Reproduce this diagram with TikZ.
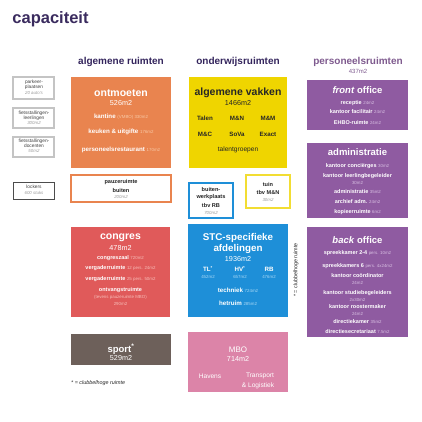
\documentclass[tikz,border=0pt]{standalone}
\usepackage{fontspec}
\setmainfont{Liberation Sans}

\definecolor{titelpaars}{HTML}{3A2B5E}
\definecolor{kopkleur}{HTML}{33245C}
\definecolor{perskop}{HTML}{7E5A8E}
\definecolor{ontmoet}{HTML}{E9844F}
\definecolor{ontmoetlicht}{HTML}{F8C9A6}
\definecolor{vakgeel}{HTML}{EFD500}
\definecolor{congrood}{HTML}{E05A5A}
\definecolor{congroodlicht}{HTML}{F7BDB8}
\definecolor{stcblauw}{HTML}{1E8FD8}
\definecolor{stcblauwlicht}{HTML}{A9D8F5}
\definecolor{perspaars}{HTML}{8F5BA1}
\definecolor{perspaarslicht}{HTML}{D9C0E3}
\definecolor{sportbruin}{HTML}{6D605A}
\definecolor{mboroze}{HTML}{DC84A8}
\definecolor{randgrijs}{HTML}{C4C4C4}
\definecolor{tekstgrijs}{HTML}{9A9A9A}

\newcommand{\maat}[2]{{\color{#1}\fontsize{4.4}{4.8}\selectfont\mdseries #2}}

\tikzset{every picture/.style={line width=0.9pt}}
\tikzset{
  kop/.style={inner sep=0.75pt, font=\fontsize{10}{11}\selectfont\bfseries, text=kopkleur},
  titel/.style={inner sep=0.75pt, font=\fontsize{10.5}{11}\selectfont\bfseries, text=white},
  regel/.style={inner sep=0.75pt, font=\fontsize{6.2}{6.5}\selectfont\bfseries, text=white},
  persregel/.style={regel, font=\fontsize{5.5}{6}\selectfont\bfseries},
  totaal/.style={inner sep=0.75pt, font=\fontsize{7.2}{8}\selectfont, text=white},
  klein/.style={inner sep=0.75pt, font=\fontsize{4.8}{5}\selectfont, text=black!75},
  kleingrijs/.style={inner sep=0.75pt, font=\fontsize{4.4}{4.8}\selectfont\itshape, text=tekstgrijs},
  buitenregel/.style={inner sep=0.75pt, font=\fontsize{5.6}{6}\selectfont\bfseries, text=black!85},
}

\begin{document}
\begin{tikzpicture}[x=1pt,y=1pt,yscale=-1]
\useasboundingbox (0,0) rectangle (422,422);

% Text Node
\draw (12,24) node [anchor=base west][inner sep=0pt] [font=\fontsize{16.5}{17}\selectfont\bfseries, text=titelpaars] (titel) {capaciteit};
% Text Node
\draw (121,62) node [kop] (kopalg) {algemene ruimten};
% Text Node
\draw (238,62) node [kop] (kopond) {onderwijsruimten};
% Text Node
\draw (358,62) node [kop, text=perskop] (koppers) {personeelsruimten};
% Text Node
\draw (358,71) node [totaal, text=perskop, font=\fontsize{6}{6.5}\selectfont] (perstotaal) {437m2};

%Shape: Rectangle (parkeerplaatsen)
\draw [draw=randgrijs, line width=1.2pt] (13,77) rectangle (54,99);
\draw (34,82) node [klein] (park1) {parkeer-};
\draw (34,87) node [klein] (park2) {plaatsen};
\draw (34,92.5) node [kleingrijs] (park3) {20 auto's};
%Shape: Rectangle (fietsen leerlingen)
\draw [draw=randgrijs, line width=1.2pt] (13,108) rectangle (54,128);
\draw (34,113) node [klein] (fietsl1) {fietsstallingen-};
\draw (34,118) node [klein] (fietsl2) {leerlingen};
\draw (34,123) node [kleingrijs] (fietsl3) {300m2};
%Shape: Rectangle (fietsen docenten)
\draw [draw=randgrijs, line width=1.2pt] (13,137) rectangle (54,157);
\draw (34,141) node [klein] (fietsd1) {fietsstallingen-};
\draw (34,146) node [klein] (fietsd2) {docenten};
\draw (34,151) node [kleingrijs] (fietsd3) {50m2};
%Shape: Rectangle (lockers)
\draw [draw=black!70, line width=0.9pt] (13,182) rectangle (54,199);
\draw (34,187) node [klein] (lockers1) {lockers};
\draw (34,192.5) node [kleingrijs] (lockers2) {600 stuks};

%Shape: Rectangle (ontmoeten)
\draw [draw=none, fill=ontmoet] (71,77) rectangle (171,168);
\draw (121,93) node [titel] (ontmoeten) {ontmoeten};
\draw (121,103.5) node [totaal] (ontmoetentot) {526m2};
\draw (121,117) node [regel] (kantine) {kantine \maat{ontmoetlicht}{(VMBO) 330m2}};
\draw (121,132) node [regel] (keuken) {keuken \& uitgifte \maat{ontmoetlicht}{176m2}};
\draw (121,150) node [regel] (restaurant) {personeelsrestaurant \maat{ontmoetlicht}{170m2}};

%Shape: Rectangle (pauzeruimte)
\draw [draw=ontmoet, line width=1.6pt, fill=white] (71,175) rectangle (171,202);
\draw (121,182.5) node [buitenregel] (pauze1) {pauzeruimte};
\draw (121,190) node [buitenregel] (pauze2) {buiten};
\draw (121,197) node [kleingrijs] (pauze3) {200m2};

%Shape: Rectangle (algemene vakken)
\draw [draw=none, fill=vakgeel] (189,77) rectangle (287,168);
\draw (238,93) node [titel, text=black!85] (vakken) {algemene vakken};
\draw (238,103.5) node [totaal, text=black!85] (vakkentot) {1466m2};
\draw (205,118) node [regel, text=black!85] (talen) {Talen};
\draw (237,118) node [regel, text=black!85] (mn) {M\&N};
\draw (268,118) node [regel, text=black!85] (mm) {M\&M};
\draw (205,134) node [regel, text=black!85] (mc) {M\&C};
\draw (237,134) node [regel, text=black!85] (sova) {SoVa};
\draw (268,134) node [regel, text=black!85] (exact) {Exact};
\draw (238,150) node [regel, font=\fontsize{6.6}{7}\selectfont, text=black!85] (talent) {talentgroepen};

%Shape: Rectangle (buitenwerkplaats)
\draw [draw=stcblauw, line width=1.6pt, fill=white] (189,183) rectangle (233,218);
\draw (211,189) node [buitenregel] (werk1) {buiten-};
\draw (211,197) node [buitenregel] (werk2) {werkplaats};
\draw (211,205) node [buitenregel] (werk3) {tbv RB};
\draw (211,212.5) node [kleingrijs] (werk4) {700m2};
%Shape: Rectangle (tuin)
\draw [draw=vakgeel!80, line width=1.6pt, fill=white] (246,175) rectangle (290,208);
\draw (268,184) node [buitenregel] (tuin1) {tuin};
\draw (268,192) node [buitenregel] (tuin2) {tbv M\&N};
\draw (268,200) node [kleingrijs] (tuin3) {30m2};

%Shape: Rectangle (front office)
\draw [draw=none, fill=perspaars] (307,80) rectangle (408,130);
\draw (357.5,90) node [titel, font=\fontsize{9.5}{10}\selectfont\bfseries] (front) {\textit{front} office};
\draw (357.5,103) node [persregel] (receptie) {receptie \maat{perspaarslicht}{24m2}};
\draw (357.5,111.5) node [persregel] (facilitair) {kantoor facilitair \maat{perspaarslicht}{24m2}};
\draw (357.5,123) node [persregel] (ehbo) {EHBO-ruimte \maat{perspaarslicht}{24m2}};

%Shape: Rectangle (administratie)
\draw [draw=none, fill=perspaars] (307,143) rectangle (408,218);
\draw (357.5,152) node [titel, font=\fontsize{9.5}{10}\selectfont\bfseries] (admin) {administratie};
\draw (357.5,166) node [persregel] (concierge) {kantoor conciërges \maat{perspaarslicht}{30m2}};
\draw (357.5,176) node [persregel] (llb1) {kantoor leerlingbegeleider};
\draw (357.5,183) node [regel] (llb2) {\maat{perspaarslicht}{30m2}};
\draw (357.5,192) node [persregel] (adminr) {administratie \maat{perspaarslicht}{35m2}};
\draw (357.5,202) node [persregel] (archief) {archief adm. \maat{perspaarslicht}{24m2}};
\draw (357.5,212) node [persregel] (kopieer) {kopieerruimte \maat{perspaarslicht}{6m2}};

%Shape: Rectangle (back office)
\draw [draw=none, fill=perspaars] (307,227) rectangle (408,337);
\draw (357.5,240) node [titel, font=\fontsize{9.5}{10}\selectfont\bfseries] (back) {\textit{back} office};
\draw (357.5,253) node [persregel] (spreek1) {spreekkamer 2-4 \maat{perspaarslicht}{pers. 10m2}};
\draw (357.5,266) node [persregel] (spreek2) {spreekkamers 6 \maat{perspaarslicht}{pers. 4x24m2}};
\draw (357.5,276) node [persregel] (coord1) {kantoor coördinator};
\draw (357.5,283) node [regel] (coord2) {\maat{perspaarslicht}{24m2}};
\draw (357.5,293) node [persregel] (studie1) {kantoor studiebegeleiders};
\draw (357.5,300) node [regel] (studie2) {\maat{perspaarslicht}{2x30m2}};
\draw (357.5,307) node [persregel] (rooster1) {kantoor roostermaker};
\draw (357.5,314) node [regel] (rooster2) {\maat{perspaarslicht}{24m2}};
\draw (357.5,322) node [persregel] (directie) {directiekamer \maat{perspaarslicht}{35m2}};
\draw (357.5,332) node [persregel] (secretariaat) {directiesecretariaat \maat{perspaarslicht}{7.5m2}};

%Shape: Rectangle (congres)
\draw [draw=none, fill=congrood] (71,227) rectangle (170,317);
\draw (120.5,238) node [titel] (congres) {congres};
\draw (120.5,248.5) node [totaal] (congrestot) {478m2};
\draw (120.5,258) node [persregel] (zaal) {congreszaal \maat{congroodlicht}{720m2}};
\draw (120.5,268.5) node [persregel] (verg12) {vergaderruimte \maat{congroodlicht}{12 pers. 24m2}};
\draw (120.5,279) node [persregel] (verg25) {vergaderruimte \maat{congroodlicht}{25 pers. 50m2}};
\draw (120.5,290.5) node [persregel] (ontvang1) {ontvangstruimte};
\draw (120.5,297) node [regel] (ontvang2) {\maat{congroodlicht}{(tevens pauzeruimte MBO)}};
\draw (120.5,303.5) node [regel] (ontvang3) {\maat{congroodlicht}{290m2}};

%Shape: Rectangle (STC-specifieke afdelingen)
\draw [draw=none, fill=stcblauw] (188,224) rectangle (288,317);
\draw (238,237.5) node [titel, font=\fontsize{9.8}{10}\selectfont\bfseries] (stc1) {STC-specifieke};
\draw (238,248.5) node [titel, font=\fontsize{9.8}{10}\selectfont\bfseries] (stc2) {afdelingen};
\draw (238,259) node [totaal] (stctot) {1936m2};
\draw (208,269) node [regel] (tl) {TL\textsuperscript{*}};
\draw (240,269) node [regel] (hv) {HV\textsuperscript{*}};
\draw (269,269) node [regel] (rb) {RB};
\draw (208,277) node [regel] (tlm) {\maat{stcblauwlicht}{452m2}};
\draw (240,277) node [regel] (hvm) {\maat{stcblauwlicht}{657m2}};
\draw (269,277) node [regel] (rbm) {\maat{stcblauwlicht}{476m2}};
\draw (238,290) node [regel] (techniek) {techniek \maat{stcblauwlicht}{724m2}};
\draw (238,303) node [regel] (hetruim) {hetruim \maat{stcblauwlicht}{285m2}};
% Text Node
\draw (296,270) node [rotate=90] [inner sep=0.75pt] [font=\fontsize{5.4}{6}\selectfont, text=black!85] (clubnoot) {* = clubbelhoge ruimte};

%Shape: Rectangle (sport)
\draw [draw=none, fill=sportbruin] (71,334) rectangle (171,365);
\draw (121,349.5) node [titel, font=\fontsize{9.5}{10}\selectfont\bfseries] (sport) {sport\textsuperscript{*}};
\draw (121,358.5) node [totaal] (sporttot) {529m2};
% Text Node
\draw (70,383) node [anchor=west] [inner sep=0.75pt] [font=\fontsize{5.4}{6}\selectfont\itshape, text=black!85] (voetnoot) {* = clubbelhoge ruimte};

%Shape: Rectangle (MBO)
\draw [draw=none, fill=mboroze] (188,332) rectangle (288,392);
\draw (238,350) node [totaal, font=\fontsize{8}{9}\selectfont] (mbo) {MBO};
\draw (238,359) node [totaal] (mbotot) {714m2};
\draw (210,376) node [totaal, font=\fontsize{6.6}{7}\selectfont] (havens) {Havens};
\draw (260,376) node [totaal, font=\fontsize{6.6}{7}\selectfont] (transport) {Transport};
\draw (258,386) node [totaal, font=\fontsize{6.6}{7}\selectfont] (logistiek) {\& Logistiek};
\end{tikzpicture}
\end{document}
